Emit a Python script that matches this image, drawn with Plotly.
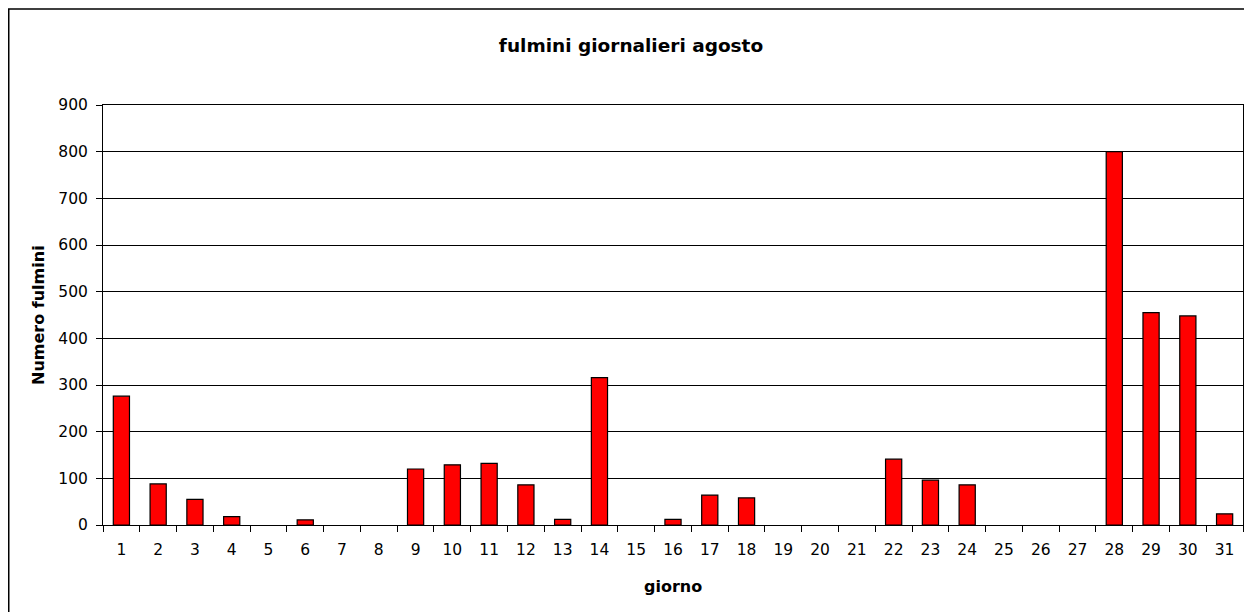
import plotly.graph_objects as go

days = [str(d) for d in range(1, 32)]
fulmini = [276, 88, 55, 18, 0, 11, 0, 0, 120, 129, 132, 86, 12, 316, 0, 12, 64, 58,
           0, 0, 0, 141, 96, 86, 0, 0, 0, 800, 455, 448, 24]
y_ticks = [0, 100, 200, 300, 400, 500, 600, 700, 800, 900]

# the page body has an 8px margin, so the figure is 8px smaller and offset
W, H = 1244, 604
L, R, T, B = 95, 9, 97, 87
pw, ph = W - L - R, H - T - B

font = "DejaVu Sans, Arial, sans-serif"

# zero days draw no bar at all
bar_y = [v if v else None for v in fulmini]

fig = go.Figure(go.Bar(
    x=days, y=bar_y,
    marker=dict(color="#FF0000", line=dict(color="#000000", width=1.2)),
    width=0.44,
))

fig.update_layout(
    width=W, height=H,
    margin=dict(l=L, r=R, t=T, b=B),
    paper_bgcolor="white", plot_bgcolor="white",
    font=dict(family=font, size=15.5, color="black"),
    showlegend=False,
    title=dict(text="<b>fulmini giornalieri agosto</b>", x=623 / W, xanchor="center",
               y=1 - 38 / H, yanchor="middle", yref="container",
               font=dict(family=font, size=18.5, color="black")),
    xaxis=dict(
        type="category", tickson="boundaries", ticks="outside", ticklen=6,
        tickcolor="black", tickwidth=1, showline=True, linecolor="black", linewidth=1,
        mirror=True, showgrid=False, ticklabelstandoff=10,
        tickfont=dict(family=font, size=15.5),
    ),
    yaxis=dict(
        range=[0, 900], tickvals=y_ticks, ticks="outside", ticklen=6, tickcolor="black",
        showline=True, linecolor="black", linewidth=1, mirror=True,
        showgrid=True, gridcolor="black", gridwidth=1, zeroline=False,
        ticklabelstandoff=5,
        tickfont=dict(family=font, size=15.5),
    ),
    annotations=[
        dict(text="<b>giorno</b>", xref="paper", yref="paper", x=0.5, y=-(578 - (T + ph)) / ph,
             xanchor="center", yanchor="middle", showarrow=False,
             font=dict(family=font, size=16, color="black")),
        dict(text="<b>Numero fulmini</b>", xref="paper", yref="paper", x=(30 - L) / pw, y=0.5,
             xanchor="center", yanchor="middle", textangle=-90, showarrow=False,
             font=dict(family=font, size=16, color="black")),
    ],
)

# outer chart border (extends past right/bottom edges as in the reference)
fig.add_shape(type="rect", xref="paper", yref="paper",
              x0=(0.75 - L) / pw, x1=(W + 20 - L) / pw,
              y0=-(B + 20) / ph, y1=(H - 1 - B) / ph,
              line=dict(color="black", width=1.5), fillcolor="rgba(0,0,0,0)", layer="below")

fig.write_html("out.html")
